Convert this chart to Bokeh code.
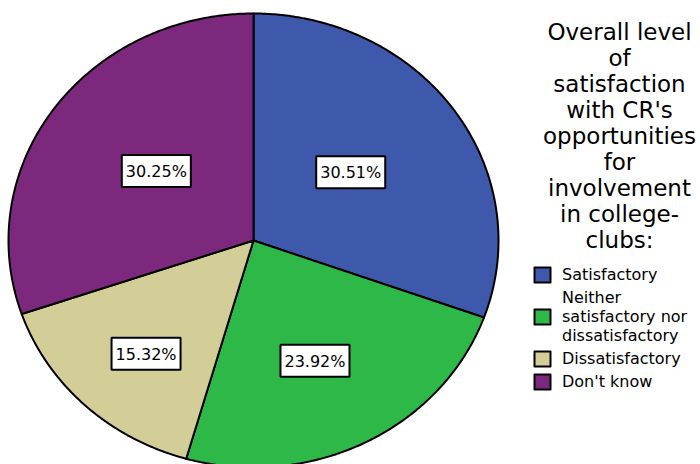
import numpy as np
from bokeh.plotting import figure
from bokeh.models import ColumnDataSource, Range1d, Legend, LegendItem, Label
from bokeh.core.properties import value
from bokeh.embed import file_html
from bokeh.resources import INLINE

# ---- data ----
categories = ["Satisfactory", "Neither\nsatisfactory nor\ndissatisfactory",
              "Dissatisfactory", "Don't know"]
percents = [30.51, 23.92, 15.32, 30.25]
colors = ["#3E58AC", "#2EB848", "#D3CE97", "#7C287D"]
legend_title = ("Overall level\nof\nsatisfaction\nwith CR's\nopportunities\nfor\n"
                "involvement\nin college-\nclubs:")

# ---- layout constants (pixels) ----
W, H = 700, 464
CX, CY = 253, 240      # pie centre, from left / from top
RX, RY = 245, 227      # pie radii (the pie is slightly elliptical)
FONT = "DejaVu Sans"
LABEL_Y_STRETCH = 1.08

fr = np.array(percents) / sum(percents)
ends = np.cumsum(fr) * 2 * np.pi
starts = ends - fr * 2 * np.pi

xs, ys, lx, ly = [], [], [], []
for s, e, f in zip(starts, ends, fr):
    t = np.linspace(s, e, 200)
    xs.append([0.0] + list(np.sin(t)) + [0.0])
    ys.append([0.0] + list(np.cos(t)) + [0.0])
    mid = (s + e) / 2
    r = 0.79 - f
    lx.append(r * np.sin(mid))
    ly.append(r * LABEL_Y_STRETCH * np.cos(mid))

src = ColumnDataSource(dict(xs=xs, ys=ys, color=colors, label=categories))
lab = ColumnDataSource(dict(x=lx, y=ly, text=[f"{v:.2f}%" for v in percents]))

p = figure(width=W, height=H, toolbar_location=None, output_backend="svg",
           x_range=Range1d(-CX / RX, (W - CX) / RX),
           y_range=Range1d(-(H - CY) / RY, CY / RY),
           min_border=0)
p.axis.visible = False
p.grid.visible = False
p.outline_line_color = None
p.background_fill_color = "white"

r = p.patches("xs", "ys", source=src, fill_color="color", line_color="black",
              line_width=2, line_join="round")

p.text(x="x", y="y", text="text", source=lab, text_font=value(FONT),
       text_font_size="16px", text_color="black", text_align="center",
       text_baseline="middle", background_fill_color="white",
       border_line_color="black", border_line_width=2,
       padding=dict(left=4, right=4, top=7, bottom=6))

items = [LegendItem(label=c, renderers=[r], index=i) for i, c in enumerate(categories)]
legend = Legend(items=items, location=(532, 73), label_text_font=FONT,
                label_text_font_size="16px", label_text_line_height=1.05,
                label_text_color="black",
                glyph_width=20, glyph_height=19, label_standoff=10, spacing=4,
                padding=0, margin=0, border_line_color=None,
                background_fill_alpha=0)
p.add_layout(legend)

p.add_layout(Label(x=619, y=H - 18, x_units="screen", y_units="screen",
                   text=legend_title, text_align="center", text_baseline="top",
                   text_font=FONT, text_font_size="23px", text_line_height=1.0,
                   text_color="black"))

open("out.html", "w").write(file_html(p, INLINE))
